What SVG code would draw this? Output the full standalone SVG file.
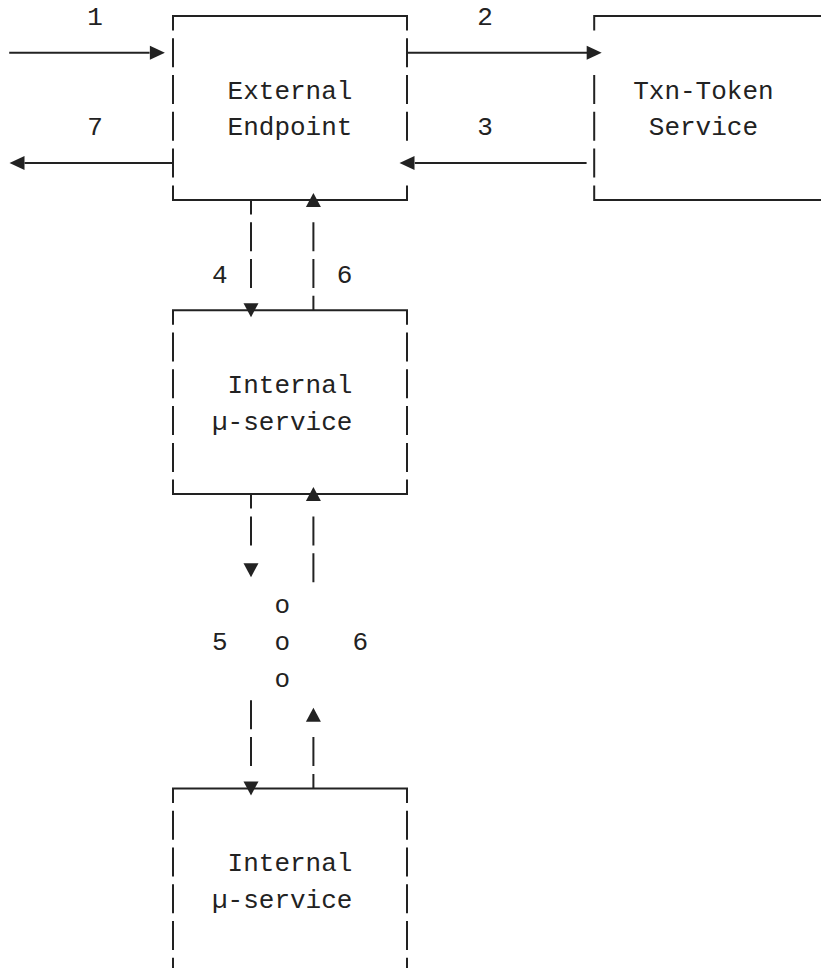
<svg xmlns="http://www.w3.org/2000/svg" width="821" height="968" viewBox="0 0 821 968">
  <style>
    .ln { fill: none; stroke: #222; stroke-width: 2; stroke-linecap: butt; }
    .hd { fill: #222; stroke: none; }
    .tx { font-family: "Liberation Mono", "DejaVu Sans Mono", monospace; font-size: 26px; fill: #222; }
    .lb { font-family: "Liberation Mono", "DejaVu Sans Mono", monospace; font-size: 26px; fill: #222; text-anchor: middle; }
  </style>
  <rect width="821" height="968" fill="#fff"/>

  <!-- External Endpoint -->
  <g id="external-endpoint">
    <path class="ln" d="M173 30.5 V16 H407 V30.5 M173 185.4 V199.9 H407 V185.4"/>
    <path class="ln" d="M173 38.3 V67.3 M173 75.1 V104.1 M173 111.8 V140.8 M173 148.6 V177.6"/>
    <path class="ln" d="M407 38.3 V67.3 M407 75.1 V104.1 M407 111.8 V140.8"/>
    <text class="tx" x="227.6" y="98.6">External</text>
    <text class="tx" x="227.6" y="135.3">Endpoint</text>
  </g>

  <!-- Txn-Token Service -->
  <g id="txn-token-service">
    <path class="ln" d="M594.2 30.5 V16 H830 M594.2 185.4 V199.9 H830"/>
    <path class="ln" d="M594.2 75.1 V104.1 M594.2 111.8 V140.8 M594.2 148.6 V177.6"/>
    <text class="tx" x="633.2" y="98.6">Txn-Token</text>
    <text class="tx" x="648.8" y="135.3">Service</text>
  </g>

  <!-- Internal micro-service (first) -->
  <g id="internal-service-1">
    <path class="ln" d="M173 324.7 V310.2 H407 V324.7 M173 479.6 V494.1 H407 V479.6"/>
    <path class="ln" d="M173 332.5 V361.5 M173 369.3 V398.3 M173 406.1 V435.1 M173 442.9 V471.9"/>
    <path class="ln" d="M407 332.5 V361.5 M407 369.3 V398.3 M407 406.1 V435.1 M407 442.9 V471.9"/>
    <text class="tx" x="227.6" y="392.8">Internal</text>
    <text class="tx" x="212" y="429.6">µ-service</text>
  </g>

  <!-- Internal micro-service (last) -->
  <g id="internal-service-2">
    <path class="ln" d="M173 802.9 V788.4 H407 V802.9"/>
    <path class="ln" d="M173 810.7 V839.7 M173 847.4 V876.4 M173 884.2 V913.2 M173 921 V950 M173 957.8 V986.8"/>
    <path class="ln" d="M407 810.7 V839.7 M407 847.4 V876.4 M407 884.2 V913.2 M407 921 V950 M407 957.8 V986.8"/>
    <text class="tx" x="227.6" y="870.9">Internal</text>
    <text class="tx" x="212" y="907.7">µ-service</text>
  </g>

  <!-- Connectors -->
  <g id="connectors">
    <!-- 1: client to external endpoint -->
    <path class="ln" d="M9.2 52.8 H149.6"/>
    <polygon class="hd" points="149.9,45.8 164.9,52.8 149.9,59.8"/>
    <!-- 2: external endpoint to token service -->
    <path class="ln" d="M407 52.8 H587"/>
    <polygon class="hd" points="586.7,45.8 601.7,52.8 586.7,59.8"/>
    <!-- 3: token service back to external endpoint -->
    <path class="ln" d="M414.8 163.1 H586.6"/>
    <polygon class="hd" points="414.5,156.1 399.5,163.1 414.5,170.1"/>
    <!-- 7: response to client -->
    <path class="ln" d="M24.5 163.1 H173"/>
    <polygon class="hd" points="24.5,156.1 9.5,163.1 24.5,170.1"/>

    <!-- 4 / 6 between external endpoint and first internal service -->
    <path class="ln" d="M251 199.9 V214.4 M251 222.2 V251.2 M251 259 V288"/>
    <polygon class="hd" points="243.5,303.2 258.5,303.2 251,317.2"/>
    <polygon class="hd" points="305.9,206.9 320.9,206.9 313.4,192.9"/>
    <path class="ln" d="M313.4 222.2 V251.2 M313.4 259 V288 M313.4 295.7 V310.2"/>

    <!-- 5 / 6 below first internal service -->
    <path class="ln" d="M251 494.1 V508.6 M251 516.4 V545.4"/>
    <polygon class="hd" points="243.5,563.2 258.5,563.2 251,577.2"/>
    <polygon class="hd" points="305.9,501.1 320.9,501.1 313.4,487.1"/>
    <path class="ln" d="M313.4 516.4 V545.4 M313.4 553.2 V582.2"/>

    <!-- continuation into last internal service -->
    <path class="ln" d="M251 700.3 V729.3 M251 737.1 V766.1"/>
    <polygon class="hd" points="243.5,781.4 258.5,781.4 251,795.4"/>
    <polygon class="hd" points="305.9,721.8 320.9,721.8 313.4,707.8"/>
    <path class="ln" d="M313.4 737.1 V766.1 M313.4 773.9 V788.4"/>

    <!-- step labels -->
    <text class="lb" x="95" y="25">1</text>
    <text class="lb" x="485" y="25">2</text>
    <text class="lb" x="95" y="135.3">7</text>
    <text class="lb" x="485" y="135.3">3</text>
    <text class="lb" x="219.8" y="282.5">4</text>
    <text class="lb" x="344.6" y="282.5">6</text>
    <text class="lb" x="219.8" y="650.3">5</text>
    <text class="lb" x="360.2" y="650.3">6</text>
    <text class="lb" x="282.2" y="613">o</text>
    <text class="lb" x="282.2" y="649.8">o</text>
    <text class="lb" x="282.2" y="686.5">o</text>
  </g>
</svg>
